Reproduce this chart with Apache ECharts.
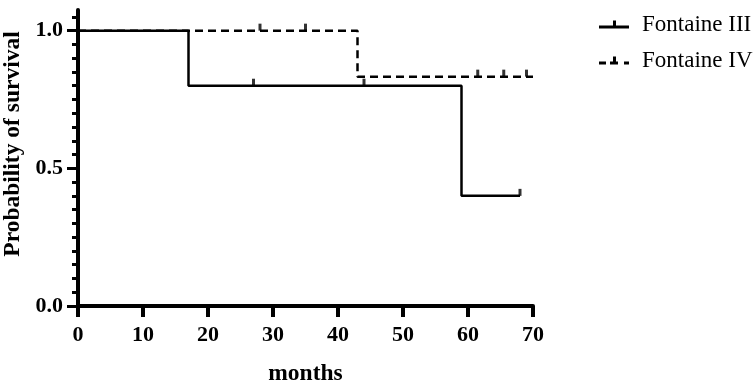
<!DOCTYPE html>
<html>
<head>
<meta charset="utf-8">
<script src="https://cdn.jsdelivr.net/npm/echarts@6/dist/echarts.min.js"></script>
<style>
  html, body { margin: 0; padding: 0; background: #fff; }
  #chart { width: 756px; height: 381px; }
</style>
</head>
<body>
<div id="chart"></div>
<script>
// Kaplan-Meier steps: [month, survival]
const stage3Steps = [[0, 1], [17, 0.8], [59, 0.4], [68, 0.4]];
const stage4Steps = [[0, 1], [43, 0.833], [70, 0.833]];
// censored observations
const stage3Censored = [[27, 0.8], [44, 0.8], [68, 0.4]];
const stage4Censored = [[28, 1], [35, 1], [61.5, 0.833], [65.5, 0.833], [69, 0.833]];

const yMajorTicks = [0, 0.5, 1.0];
const yMinorTicks = Array.from({ length: 22 }, (_, i) => +(i * 0.05).toFixed(2));

const serif = '"Liberation Serif", "Times New Roman", serif';
const black = '#000';

const censorMark = {
  type: 'scatter',
  symbol: 'rect',
  symbolSize: [3, 7],
  symbolOffset: [0, -3.5],
  itemStyle: { color: black },
  silent: true,
  z: 4
};

const myChart = echarts.init(document.getElementById('chart'));

myChart.setOption({
  animation: false,
  backgroundColor: '#fff',
  grid: { left: 78, right: 223, top: 10, bottom: 75, outerBoundsMode: 'none' },
  legend: {
    orient: 'vertical',
    left: 594,
    top: 8,
    itemGap: 13,
    itemWidth: 30,
    itemHeight: 10,
    textStyle: { fontFamily: serif, fontSize: 23, color: black, padding: [0, 0, 0, 8] },
    data: [
      {
        name: 'Fontaine III',
        icon: 'path://M0,6 L30,6 L30,9 L0,9 Z M14,1 L17,1 L17,6 L14,6 Z'
      },
      {
        name: 'Fontaine IV',
        icon: 'path://M0,6 L7,6 L7,9 L0,9 Z M11,6 L19,6 L19,9 L11,9 Z M14,1 L17,1 L17,6 L14,6 Z M25,6 L30,6 L30,9 L25,9 Z'
      }
    ]
  },
  xAxis: {
    type: 'value',
    min: 0,
    max: 70,
    interval: 10,
    name: 'months',
    nameLocation: 'middle',
    nameGap: 56,
    nameTextStyle: { fontFamily: serif, fontSize: 23.5, fontWeight: 'bold', color: black },
    splitLine: { show: false },
    axisLine: { onZero: false, lineStyle: { color: black, width: 4 } },
    axisTick: { length: 11, lineStyle: { color: black, width: 4 } },
    axisLabel: { fontFamily: serif, fontSize: 22, fontWeight: 'bold', color: black, margin: 18 }
  },
  yAxis: [
    {
      type: 'value',
      min: 0,
      max: 1.075,
      interval: 0.5,
      name: 'Probability of survival',
      nameLocation: 'middle',
      nameGap: 51,
      nameTextStyle: {
        fontFamily: serif, fontSize: 23.5, fontWeight: 'bold', color: black,
        padding: [0, 0, 0, 28]
      },
      splitLine: { show: false },
      axisLine: { onZero: false, lineStyle: { color: black, width: 4 } },
      axisTick: { customValues: yMajorTicks, length: 11, lineStyle: { color: black, width: 3 } },
      axisLabel: {
        customValues: yMajorTicks,
        fontFamily: serif, fontSize: 22, fontWeight: 'bold', color: black, margin: 15,
        formatter: (v) => v.toFixed(1)
      }
    },
    {
      type: 'value',
      min: 0,
      max: 1.075,
      position: 'left',
      splitLine: { show: false },
      axisLine: { show: false },
      axisTick: { customValues: yMinorTicks, length: 6, lineStyle: { color: black, width: 3 } },
      axisLabel: { show: false }
    }
  ],
  series: [
    {
      name: 'Fontaine IV',
      type: 'line',
      step: 'end',
      data: stage4Steps,
      showSymbol: false,
      lineStyle: { color: black, width: 2.5, type: [8, 5] },
      itemStyle: { color: black },
      z: 2
    },
    Object.assign({ data: stage4Censored }, censorMark),
    {
      name: 'Fontaine III',
      type: 'line',
      step: 'end',
      data: stage3Steps,
      showSymbol: false,
      lineStyle: { color: black, width: 2.5 },
      itemStyle: { color: black },
      z: 3
    },
    Object.assign({ data: stage3Censored }, censorMark)
  ]
});
</script>
</body>
</html>
